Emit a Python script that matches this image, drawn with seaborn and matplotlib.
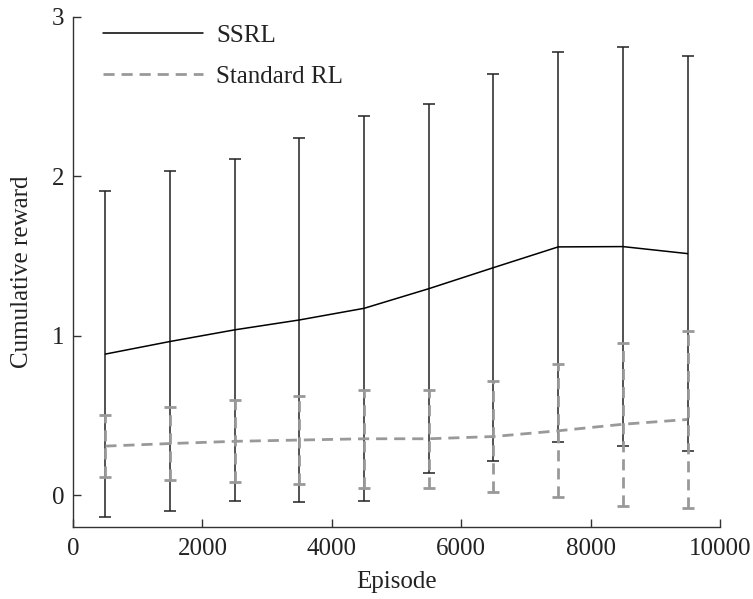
import numpy as np
import pandas as pd
import matplotlib
matplotlib.use('Agg')
import matplotlib.pyplot as plt
import seaborn as sns

# data (mean +/- std per 1000-episode block)
episodes = [500, 1500, 2500, 3500, 4500, 5500, 6500, 7500, 8500, 9500]
ssrl_mean = [0.885, 0.964, 1.037, 1.099, 1.172, 1.295, 1.427, 1.557, 1.559, 1.515]
ssrl_std = [1.021, 1.066, 1.073, 1.141, 1.208, 1.155, 1.213, 1.222, 1.251, 1.236]
std_rl_mean = [0.308, 0.324, 0.338, 0.346, 0.354, 0.354, 0.368, 0.404, 0.445, 0.475]
std_rl_std = [0.195, 0.230, 0.256, 0.277, 0.306, 0.308, 0.349, 0.417, 0.510, 0.555]

x_ticks = [0, 2000, 4000, 6000, 8000, 10000]
y_ticks = [0, 1, 2, 3]

sns.set_style('ticks')
plt.rcParams['font.family'] = ['Liberation Serif', 'DejaVu Serif']
plt.rcParams['xtick.direction'] = 'in'
plt.rcParams['ytick.direction'] = 'in'

gray = '#999999'

fig = plt.figure(figsize=(7.53, 5.99), dpi=100)
ax = fig.add_axes([0.097, 0.12, 0.859, 0.852])

# error bars (black first, gray dashed on top)
ax.errorbar(episodes, ssrl_mean, yerr=ssrl_std, fmt='none', ecolor='#222222',
            elinewidth=1.1, capsize=4.5, capthick=1.1, zorder=2)
eb = ax.errorbar(episodes, std_rl_mean, yerr=std_rl_std, fmt='none', ecolor=gray,
                 elinewidth=2.0, capsize=4.5, capthick=2.0, zorder=3)
for lc in eb[2]:
    lc.set_linestyle((0, (4, 2.5)))

sns.lineplot(x=episodes, y=ssrl_mean, color='black', linewidth=1.1,
             label='SSRL', ax=ax, zorder=4)
sns.lineplot(x=episodes, y=std_rl_mean, color=gray, linewidth=2.0,
             linestyle=(0, (4, 2.5)), label='Standard RL', ax=ax, zorder=4)

ax.set_xlim(0, 10000)
ax.set_ylim(-0.2, 3)
ax.set_xticks(x_ticks)
ax.set_yticks(y_ticks)
ax.tick_params(labelsize=18, length=6, width=1, colors='#333333', labelcolor='#222222')
ax.tick_params(axis='x', pad=8)
ax.tick_params(axis='y', pad=6)
ax.set_xlabel('Episode', fontsize=18, color='#222222', labelpad=8)
ax.set_ylabel('Cumulative reward', fontsize=18, color='#222222', labelpad=14)
sns.despine(ax=ax)
for s in ['left', 'bottom']:
    ax.spines[s].set_color('#333333')
    ax.spines[s].set_linewidth(1)

leg = ax.legend(loc='upper left', frameon=False, fontsize=18, handlelength=4.0,
                handletextpad=0.5, borderaxespad=0.3, labelspacing=0.75,
                bbox_to_anchor=(0.02, 1.02))
for t in leg.get_texts():
    t.set_color('#222222')

fig.savefig('out.png', dpi=100)
